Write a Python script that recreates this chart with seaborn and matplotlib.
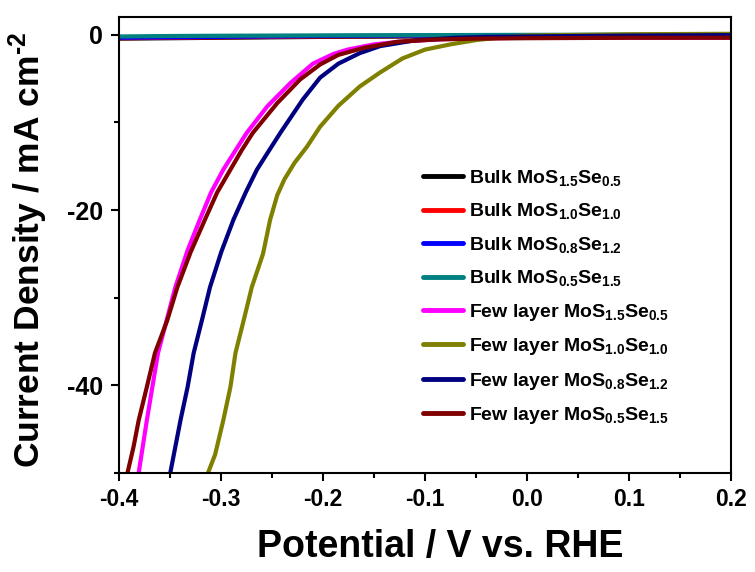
import pandas as pd
import matplotlib
matplotlib.use("Agg")
import matplotlib.pyplot as plt
from matplotlib.ticker import MultipleLocator
import seaborn as sns

# LSV data (potential in V vs RHE, current density in mA cm^-2)
bulk_v = [-0.40, -0.35, -0.30, -0.25, -0.20, -0.10, 0.00, 0.10, 0.20]
bulk_15_05 = [-0.45, -0.40, -0.35, -0.30, -0.25, -0.20, -0.15, -0.10, -0.10]
bulk_10_10 = [-0.40, -0.35, -0.30, -0.25, -0.20, -0.15, -0.10, -0.10, -0.10]
bulk_08_12 = [-0.35, -0.30, -0.25, -0.20, -0.15, -0.10, -0.05, -0.05, -0.05]
bulk_05_15 = [-0.20, -0.15, -0.12, -0.10, -0.08, -0.05, -0.02, 0.00, 0.00]

few_15_05_v = [-0.381, -0.373, -0.362, -0.345, -0.333, -0.321, -0.310, -0.298, -0.286, -0.275,
               -0.255, -0.232, -0.210, -0.190, -0.176, -0.150, -0.120, -0.080, -0.040, 0.00, 0.20]
few_15_05_j = [-50.0, -44.0, -36.3, -28.8, -24.6, -21.1, -18.0, -15.4, -13.2, -11.2,
               -8.2, -5.5, -3.3, -2.2, -1.7, -1.1, -0.75, -0.5, -0.4, -0.35, -0.35]

few_10_10_v = [-0.313, -0.306, -0.298, -0.291, -0.286, -0.278, -0.270, -0.259, -0.252, -0.245,
               -0.238, -0.228, -0.216, -0.203, -0.185, -0.164, -0.144, -0.122, -0.100, -0.075,
               -0.049, -0.020, 0.00, 0.10, 0.20]
few_10_10_j = [-50.0, -47.9, -44.0, -40.2, -36.3, -32.6, -28.8, -25.0, -21.1, -18.3,
               -16.5, -14.6, -12.8, -10.5, -8.1, -5.9, -4.3, -2.7, -1.7, -1.1,
               -0.6, -0.25, -0.1, 0.05, 0.1]

few_08_12_v = [-0.350, -0.345, -0.340, -0.333, -0.327, -0.319, -0.311, -0.300, -0.288, -0.276,
               -0.265, -0.253, -0.242, -0.220, -0.203, -0.185, -0.164, -0.144, -0.110, -0.070,
               -0.040, 0.00, 0.10, 0.20]
few_08_12_j = [-50.0, -47.0, -44.0, -40.2, -36.3, -32.6, -28.8, -24.8, -21.1, -18.0,
               -15.4, -13.2, -11.2, -7.4, -4.9, -3.3, -2.1, -1.3, -0.65, -0.35,
               -0.25, -0.2, -0.1, -0.05]

few_05_15_v = [-0.392, -0.386, -0.381, -0.373, -0.365, -0.353, -0.343, -0.330, -0.316, -0.304,
               -0.291, -0.280, -0.269, -0.245, -0.2225, -0.203, -0.185, -0.160, -0.127, -0.090,
               -0.050, 0.00, 0.10, 0.20]
few_05_15_j = [-50.0, -47.0, -44.0, -40.2, -36.3, -32.6, -28.8, -24.8, -21.1, -18.0,
               -15.4, -13.2, -11.2, -7.8, -5.1, -3.4, -2.3, -1.5, -0.8, -0.55,
               -0.45, -0.4, -0.35, -0.35]

labels = [
    "Bulk MoS$_{1.5}$Se$_{0.5}$",
    "Bulk MoS$_{1.0}$Se$_{1.0}$",
    "Bulk MoS$_{0.8}$Se$_{1.2}$",
    "Bulk MoS$_{0.5}$Se$_{1.5}$",
    "Few layer MoS$_{1.5}$Se$_{0.5}$",
    "Few layer MoS$_{1.0}$Se$_{1.0}$",
    "Few layer MoS$_{0.8}$Se$_{1.2}$",
    "Few layer MoS$_{0.5}$Se$_{1.5}$",
]
colors = ["#000000", "#ff0000", "#0000ff", "#008080",
          "#ff00ff", "#808000", "#000080", "#800000"]

series = [
    (bulk_v, bulk_15_05), (bulk_v, bulk_10_10), (bulk_v, bulk_08_12), (bulk_v, bulk_05_15),
    (few_15_05_v, few_15_05_j), (few_10_10_v, few_10_10_j),
    (few_08_12_v, few_08_12_j), (few_05_15_v, few_05_15_j),
]

frames = []
for lab, (v, j) in zip(labels, series):
    frames.append(pd.DataFrame({"V": v, "J": j, "sample": lab}))
df = pd.concat(frames, ignore_index=True)

sns.set_style("ticks")
plt.rcParams["font.family"] = ["Liberation Sans", "DejaVu Sans"]
plt.rcParams["font.weight"] = "bold"
plt.rcParams["mathtext.fontset"] = "custom"
plt.rcParams["mathtext.rm"] = "Liberation Sans:bold"
plt.rcParams["mathtext.bf"] = "Liberation Sans:bold"
plt.rcParams["mathtext.default"] = "bf"
plt.rcParams["axes.unicode_minus"] = False
for key in ["text.color", "axes.labelcolor", "xtick.color", "ytick.color", "axes.edgecolor"]:
    plt.rcParams[key] = "black"

fig, ax = plt.subplots(figsize=(7.55, 5.72), dpi=100)
fig.subplots_adjust(left=0.158, right=0.968, top=0.97, bottom=0.173)

sns.lineplot(data=df, x="V", y="J", hue="sample", hue_order=labels,
             palette=dict(zip(labels, colors)), estimator=None, sort=False,
             linewidth=3, ax=ax)

ax.set_xlim(-0.4, 0.2)
ax.set_ylim(-50, 2)
ax.xaxis.set_major_locator(MultipleLocator(0.1))
ax.xaxis.set_minor_locator(MultipleLocator(0.05))
ax.yaxis.set_major_locator(MultipleLocator(20))
ax.yaxis.set_minor_locator(MultipleLocator(10))
ax.tick_params(which="major", direction="out", length=6, width=1.5,
               top=False, right=False)
ax.tick_params(which="minor", direction="out", length=3.5, width=1.5,
               top=False, right=False)
ax.tick_params(axis="x", pad=5)
ax.tick_params(axis="y", pad=5.5)
for lbl in ax.get_xticklabels():
    lbl.set_fontsize(16.5)
    lbl.set_fontweight("bold")
for lbl in ax.get_yticklabels():
    lbl.set_fontsize(18)
    lbl.set_fontweight("bold")
for sp in ax.spines.values():
    sp.set_linewidth(1.5)

ax.set_xlabel("Potential / V vs. RHE", fontsize=27, fontweight="bold", va="top")
ax.set_ylabel("Current Density / mA cm$^{\\text{-2}}$", fontsize=25.5, fontweight="bold")
ax.xaxis.set_label_coords(0.525, -0.123)
ax.yaxis.set_label_coords(-0.113, 0.49)

leg = ax.legend(loc="upper left", bbox_to_anchor=(0.497, 0.669), frameon=False,
                fontsize=14, handlelength=2.05, handletextpad=0.3, labelspacing=0.69,
                borderpad=0, borderaxespad=0)
for line in leg.get_lines():
    line.set_linewidth(3.5)

fig.savefig("out.png", dpi=100)
